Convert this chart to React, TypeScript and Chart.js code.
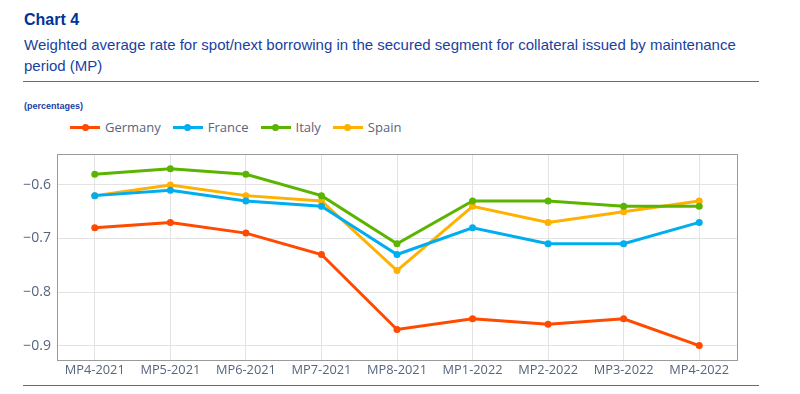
import React, { useEffect, useRef } from "react";
import { Chart, registerables } from "chart.js";

Chart.register(...registerables);

const categories = ["MP4-2021", "MP5-2021", "MP6-2021", "MP7-2021", "MP8-2021", "MP1-2022", "MP2-2022", "MP3-2022", "MP4-2022"];
const germany = [-0.68, -0.67, -0.69, -0.73, -0.87, -0.85, -0.86, -0.85, -0.90];
const france = [-0.62, -0.61, -0.63, -0.64, -0.73, -0.68, -0.71, -0.71, -0.67];
const italy = [-0.58, -0.57, -0.58, -0.62, -0.71, -0.63, -0.63, -0.64, -0.64];
const spain = [-0.62, -0.60, -0.62, -0.63, -0.76, -0.64, -0.67, -0.65, -0.63];
const yTicks = [-0.9, -0.8, -0.7, -0.6];

const seriesNames = ["Germany", "France", "Italy", "Spain"];
const seriesColors = ["#FF4A00", "#00AEEF", "#5BB400", "#FFB000"];
const seriesData = [germany, france, italy, spain];

const TICK_COLOR = "#56657e";
const FONT = "'Open Sans', 'DejaVu Sans', sans-serif";

const borderPlugin = {
  id: "plotBorder",
  afterDraw(chart: any) {
    const { ctx, chartArea } = chart;
    ctx.save();
    ctx.strokeStyle = "#9a9a9a";
    ctx.lineWidth = 1;
    ctx.strokeRect(Math.round(chartArea.left) + 0.5, Math.round(chartArea.top) + 0.5, Math.round(chartArea.right - chartArea.left), Math.round(chartArea.bottom - chartArea.top));
    ctx.restore();
  },
};

export default function App() {
  const ref = useRef<HTMLCanvasElement>(null);
  useEffect(() => {
    const chart = new Chart(ref.current!, {
      type: "line",
      data: {
        labels: categories,
        datasets: seriesData.map((d, i) => ({
          label: seriesNames[i],
          data: d,
          borderColor: seriesColors[i],
          backgroundColor: seriesColors[i],
          borderWidth: 3,
          pointRadius: 3.5,
          pointBorderWidth: 0,
          tension: 0,
        })),
      },
      options: {
        animation: false,
        responsive: false,
        maintainAspectRatio: false,
        layout: { padding: { top: 13, right: 63, left: 0, bottom: 0 } },
        plugins: { legend: { display: false }, tooltip: { enabled: false } },
        scales: {
          x: {
            offset: true,
            grid: { color: "#e3e3e3", drawTicks: false, offset: false },
            border: { display: false },
            ticks: { color: TICK_COLOR, font: { family: FONT, size: 12.8 }, padding: 3, maxRotation: 0 },
            afterFit: (s: any) => { s.height = 25; },
          },
          y: {
            min: -0.927,
            max: -0.543,
            grid: { color: "#e3e3e3", drawTicks: false },
            border: { display: false },
            afterBuildTicks: (s: any) => { s.ticks = yTicks.map((v) => ({ value: v })); },
            ticks: {
              color: TICK_COLOR,
              font: { family: FONT, size: 14 },
              padding: 6,
              callback: (v: any) => (Number(v) < 0 ? "\u2212" : "") + Math.abs(Number(v)).toFixed(1),
            },
            afterFit: (s: any) => { s.width = 57; },
          },
        },
      },
      plugins: [borderPlugin],
    });
    return () => chart.destroy();
  }, []);

  return (
    <div style={{ position: "absolute", left: 0, top: 0, width: 800, height: 394, background: "#fff", fontFamily: "'Liberation Sans', Arial, sans-serif" }}>
      <div style={{ position: "absolute", left: 24, top: 11, fontSize: 16, fontWeight: "bold", color: "#003299" }}>Chart 4</div>
      <div style={{ position: "absolute", left: 24, top: 34, width: 725, fontSize: 15, lineHeight: "21px", color: "#1a3fa0" }}>
        Weighted average rate for spot/next borrowing in the secured segment for collateral issued by maintenance period (MP)
      </div>
      <div style={{ position: "absolute", left: 23, top: 81, width: 736, height: 1, background: "#4a6dbf" }} />
      <div style={{ position: "absolute", left: 24, top: 101, fontSize: 9, fontWeight: "bold", color: "#1a3fa0" }}>(percentages)</div>
      <div style={{ position: "absolute", left: 70, top: 118, display: "flex", alignItems: "center", fontFamily: FONT, fontSize: 13, color: TICK_COLOR }}>
        {seriesNames.map((n, i) => (
          <div key={n} style={{ display: "flex", alignItems: "center", marginRight: 12 }}>
            <div style={{ position: "relative", width: 30, height: 3, background: seriesColors[i], marginRight: 5 }}>
              <div style={{ position: "absolute", left: 11.5, top: -2, width: 7, height: 7, borderRadius: "50%", background: seriesColors[i] }} />
            </div>
            <span>{n}</span>
          </div>
        ))}
      </div>
      <canvas ref={ref} width={800} height={245} style={{ position: "absolute", left: 0, top: 140, width: 800, height: 245 }} />
      <div style={{ position: "absolute", left: 23, top: 385, width: 736, height: 1, background: "#4a6dbf" }} />
    </div>
  );
}
